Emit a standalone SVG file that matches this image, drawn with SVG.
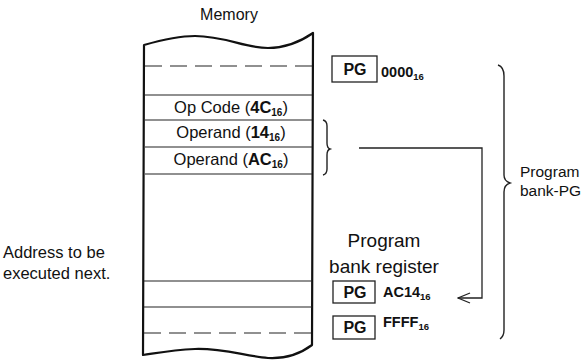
<svg xmlns="http://www.w3.org/2000/svg" width="586" height="361" viewBox="0 0 586 361">
<style>
  text { font-family: "Liberation Sans", Arial, sans-serif; fill: #111; }
  .outline { fill: none; stroke: #111; stroke-width: 2.2; stroke-linejoin: round; }
  .row { stroke: #222; stroke-width: 1.2; fill: none; }
  .dash { stroke: #222; stroke-width: 1.2; stroke-dasharray: 17 8; fill: none; }
  .reg { fill: #fff; stroke: #222; stroke-width: 1.3; }
  .pg { font-weight: bold; font-size: 16px; text-anchor: middle; }
  .val { font-weight: bold; font-size: 14.5px; }
  .cell { font-size: 16.5px; text-anchor: middle; }
  .brace { fill: none; stroke: #222; stroke-width: 1.4; }
  .conn { fill: none; stroke: #222; stroke-width: 1.3; }
</style>
<defs>
  <marker id="open" viewBox="0 0 14 12" refX="13" refY="6" markerWidth="14" markerHeight="12" markerUnits="userSpaceOnUse" orient="auto">
    <path d="M1,1 L13,6 L1,11" fill="none" stroke="#222" stroke-width="1.3"/>
  </marker>
</defs>

<text x="229" y="20" font-size="16" text-anchor="middle">Memory</text>

<g id="memory">
  <path class="outline" d="M144,45 C165,39 180,36 195,36 C225,36 245,48 268,48 C285,48 300,42 313,33 L312,345 C300,354 287,359 268,358 C245,356 222,348 195,349 C172,350 157,353 143,355 Z"/>
  <line class="dash" x1="145" y1="66" x2="312" y2="66"/>
  <line class="row" x1="145" y1="95" x2="312" y2="95"/>
  <line class="row" x1="145" y1="120" x2="312" y2="120"/>
  <line class="row" x1="145" y1="147" x2="312" y2="147"/>
  <line class="row" x1="145" y1="174" x2="312" y2="174"/>
  <line class="row" x1="144" y1="281" x2="312" y2="281"/>
  <line class="row" x1="144" y1="307" x2="312" y2="307"/>
  <line class="dash" x1="144" y1="333" x2="312" y2="333"/>
  <text class="cell" x="231" y="113">Op Code (<tspan font-weight="bold">4C</tspan><tspan font-weight="bold" font-size="10" dy="3">16</tspan><tspan dy="-3">)</tspan></text>
  <text class="cell" x="231" y="138">Operand (<tspan font-weight="bold">14</tspan><tspan font-weight="bold" font-size="10" dy="3">16</tspan><tspan dy="-3">)</tspan></text>
  <text class="cell" x="231" y="165">Operand (<tspan font-weight="bold">AC</tspan><tspan font-weight="bold" font-size="10" dy="3">16</tspan><tspan dy="-3">)</tspan></text>
</g>

<g id="address-label">
  <text x="3" y="258" font-size="16.5">Address to be</text>
  <text x="3" y="279" font-size="16.5">executed next.</text>
</g>

<g id="pg-0000">
  <rect class="reg" x="332" y="56" width="45" height="26"/>
  <text class="pg" x="355" y="75">PG</text>
  <text class="val" x="381" y="77">0000<tspan font-size="9.5" dy="3">16</tspan></text>
</g>

<g id="bank-register-label">
  <text x="384" y="247" font-size="19" text-anchor="middle">Program</text>
  <text x="384" y="273" font-size="19" text-anchor="middle">bank register</text>
</g>

<g id="pg-ac14">
  <rect class="reg" x="333" y="281" width="42" height="22"/>
  <text class="pg" x="355" y="298">PG</text>
  <text class="val" x="383" y="297">AC14<tspan font-size="9.5" dy="3">16</tspan></text>
</g>

<g id="pg-ffff">
  <rect class="reg" x="333" y="316" width="42" height="23"/>
  <text class="pg" x="355" y="333">PG</text>
  <text class="val" x="383" y="327">FFFF<tspan font-size="9.5" dy="3">16</tspan></text>
</g>

<g id="bank-pg-label">
  <text x="520" y="177" font-size="15.5">Program</text>
  <text x="520" y="196" font-size="15.5">bank-PG</text>
</g>

<g id="connectors">
  <path class="brace" d="M323,120 Q327,121 327,126 L327,143 Q327,148 330,149 Q327,150 327,155 L327,169 Q327,174 323,175"/>
  <path class="brace" d="M498,65 Q504,67 504,76 L504,175 Q504,181 510,183 Q504,185 504,192 L504,330 Q504,336 500,339"/>
  <path class="conn" d="M359,148 L482,148 L482,298 L458,298" marker-end="url(#open)"/>
</g>
</svg>
